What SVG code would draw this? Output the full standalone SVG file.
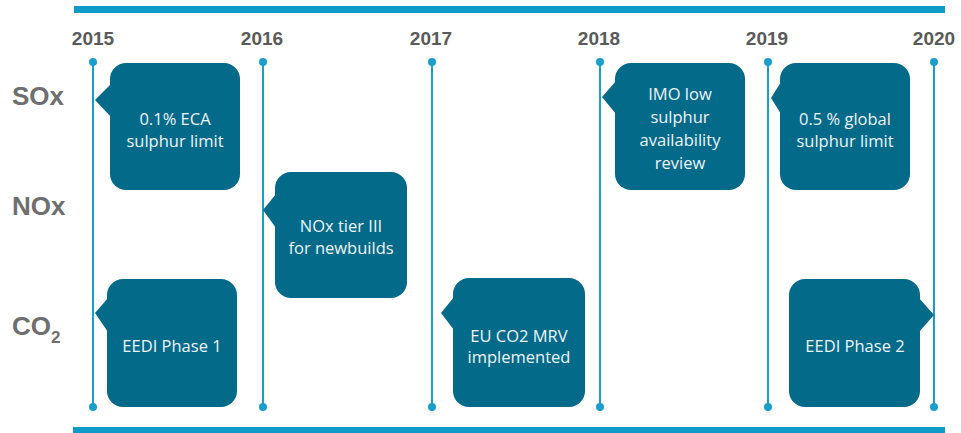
<svg xmlns="http://www.w3.org/2000/svg" width="961" height="433" viewBox="0 0 961 433">
<style>
.bar{fill:#0f9bc8}
.tl{stroke:#1a9fcc;stroke-width:2;fill:none}
.dot{fill:#1a9fcc}
.yr{font-family:"Liberation Sans",Arial,sans-serif;font-weight:bold;font-size:19px;fill:#5a5a5a;text-anchor:middle}
.rl{font-family:"Liberation Sans",Arial,sans-serif;font-weight:bold;font-size:26px;fill:#6e6e6e}
.box{fill:#046a8a}
.bt{font-family:"Open Sans","Liberation Sans",sans-serif;font-size:16.5px;fill:#eef4f7;text-anchor:middle}
</style>
<rect width="961" height="433" fill="#ffffff"/>
<rect class="bar" x="74" y="6" width="871" height="7"/>
<rect class="bar" x="73" y="427" width="872" height="6"/>
<g id="timeline">
<line class="tl" x1="93" y1="62" x2="93" y2="407"/><circle class="dot" cx="93" cy="62" r="4"/><circle class="dot" cx="93" cy="407" r="4"/>
<line class="tl" x1="263" y1="62" x2="263" y2="407"/><circle class="dot" cx="263" cy="62" r="4"/><circle class="dot" cx="263" cy="407" r="4"/>
<line class="tl" x1="432" y1="62" x2="432" y2="407"/><circle class="dot" cx="432" cy="62" r="4"/><circle class="dot" cx="432" cy="407" r="4"/>
<line class="tl" x1="600" y1="62" x2="600" y2="407"/><circle class="dot" cx="600" cy="62" r="4"/><circle class="dot" cx="600" cy="407" r="4"/>
<line class="tl" x1="768" y1="62" x2="768" y2="407"/><circle class="dot" cx="768" cy="62" r="4"/><circle class="dot" cx="768" cy="407" r="4"/>
<line class="tl" x1="934" y1="62" x2="934" y2="407"/><circle class="dot" cx="934" cy="62" r="4"/><circle class="dot" cx="934" cy="407" r="4"/>
</g>
<g id="years">
<text class="yr" x="93" y="45">2015</text>
<text class="yr" x="262" y="45">2016</text>
<text class="yr" x="431" y="45">2017</text>
<text class="yr" x="599" y="45">2018</text>
<text class="yr" x="767" y="45">2019</text>
<text class="yr" x="934" y="45">2020</text>
</g>
<g id="rows">
<text class="rl" x="12" y="105">SOx</text>
<text class="rl" x="12" y="215">NOx</text>
<text class="rl" x="12" y="335">CO<tspan font-size="17" dy="8">2</tspan></text>
</g>
<g id="sox2015">
<rect class="box" x="110" y="63" width="130" height="127" rx="16"/>
<polygon class="box" points="111,84 95,100 111,117"/>
<text class="bt" x="175" y="125">0.1% ECA</text>
<text class="bt" x="175" y="147">sulphur limit</text>
</g>
<g id="nox2016">
<rect class="box" x="275" y="172" width="132" height="126" rx="16"/>
<polygon class="box" points="276,194 263,210 276,228"/>
<text class="bt" x="341" y="232">NOx tier III</text>
<text class="bt" x="341" y="254">for newbuilds</text>
</g>
<g id="co2015">
<rect class="box" x="107" y="279" width="130" height="128" rx="16"/>
<polygon class="box" points="108,298 95,313 108,332"/>
<text class="bt" x="172" y="352">EEDI Phase 1</text>
</g>
<g id="co2017">
<rect class="box" x="453" y="278" width="132" height="129" rx="16"/>
<polygon class="box" points="454,297 441,313 454,330"/>
<text class="bt" x="519" y="342">EU CO2 MRV</text>
<text class="bt" x="519" y="363">implemented</text>
</g>
<g id="sox2018">
<rect class="box" x="615" y="63" width="130" height="127" rx="16"/>
<polygon class="box" points="616,81 602,97 616,114"/>
<text class="bt" x="680" y="100">IMO low</text>
<text class="bt" x="680" y="123">sulphur</text>
<text class="bt" x="680" y="146">availability</text>
<text class="bt" x="680" y="169">review</text>
</g>
<g id="sox2019">
<rect class="box" x="780" y="63" width="130" height="127" rx="16"/>
<polygon class="box" points="781,82 771,98 781,114"/>
<text class="bt" x="845" y="125">0.5 % global</text>
<text class="bt" x="845" y="147">sulphur limit</text>
</g>
<g id="co2019">
<rect class="box" x="789" y="279" width="131" height="128" rx="16"/>
<polygon class="box" points="919,298 934,315 919,332"/>
<text class="bt" x="855" y="352">EEDI Phase 2</text>
</g>
</svg>
